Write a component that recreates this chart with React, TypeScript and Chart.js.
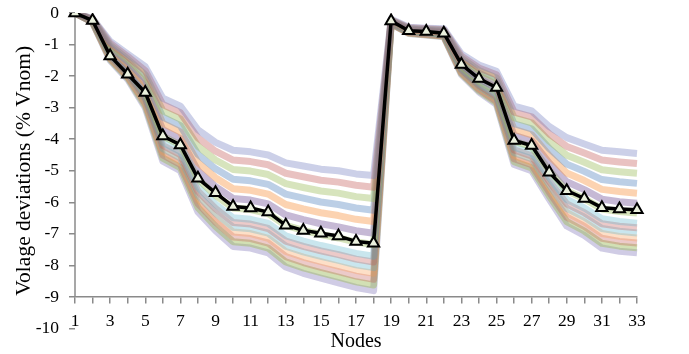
import React, { useEffect, useRef } from 'react';
import { Chart, registerables } from 'chart.js';

Chart.register(...registerables);

const NODES = ['1','2','3','4','5','6','7','8','9','10','11','12','13','14','15','16','17','18','19','20','21','22','23','24','25','26','27','28','29','30','31','32','33'];

const BASE = [0,-0.24,-1.36,-1.94,-2.52,-3.9,-4.18,-5.24,-5.7,-6.13,-6.18,-6.31,-6.73,-6.89,-6.98,-7.07,-7.24,-7.3,-0.25,-0.56,-0.59,-0.64,-1.63,-2.08,-2.36,-4.04,-4.2,-5.05,-5.63,-5.88,-6.17,-6.21,-6.24];

const CASE_01 = [0,-0.18,-0.9,-1.3,-1.7,-2.7,-2.95,-3.7,-4.1,-4.35,-4.4,-4.5,-4.75,-4.85,-4.95,-5.0,-5.1,-5.15,-0.2,-0.45,-0.48,-0.5,-1.3,-1.65,-1.85,-2.95,-3.1,-3.6,-3.95,-4.15,-4.35,-4.4,-4.45];
const CASE_02 = [0,-0.19,-0.96,-1.38,-1.83,-2.9,-3.16,-3.96,-4.38,-4.66,-4.71,-4.81,-5.08,-5.19,-5.3,-5.36,-5.46,-5.52,-0.22,-0.47,-0.5,-0.53,-1.37,-1.74,-1.96,-3.14,-3.29,-3.83,-4.23,-4.44,-4.66,-4.72,-4.77];
const CASE_03 = [0,-0.2,-1.02,-1.46,-1.96,-3.1,-3.36,-4.22,-4.66,-4.96,-5.01,-5.12,-5.41,-5.53,-5.64,-5.71,-5.82,-5.88,-0.23,-0.49,-0.52,-0.55,-1.43,-1.82,-2.06,-3.32,-3.48,-4.06,-4.51,-4.73,-4.97,-5.03,-5.08];
const CASE_04 = [0,-0.22,-1.08,-1.54,-2.09,-3.3,-3.57,-4.48,-4.94,-5.27,-5.32,-5.43,-5.74,-5.87,-5.99,-6.07,-6.18,-6.25,-0.25,-0.51,-0.55,-0.58,-1.5,-1.91,-2.17,-3.51,-3.67,-4.29,-4.79,-5.02,-5.28,-5.35,-5.4];
const CASE_05 = [0,-0.23,-1.14,-1.62,-2.22,-3.5,-3.77,-4.74,-5.22,-5.57,-5.62,-5.74,-6.07,-6.21,-6.33,-6.42,-6.54,-6.61,-0.26,-0.53,-0.57,-0.6,-1.56,-1.99,-2.27,-3.69,-3.86,-4.52,-5.07,-5.31,-5.59,-5.66,-5.71];
const CASE_06 = [0,-0.24,-1.2,-1.7,-2.35,-3.7,-3.98,-5.0,-5.5,-5.88,-5.93,-6.05,-6.4,-6.55,-6.68,-6.78,-6.9,-6.98,-0.28,-0.55,-0.59,-0.63,-1.63,-2.08,-2.38,-3.88,-4.05,-4.75,-5.35,-5.6,-5.9,-5.98,-6.03];
const CASE_07 = [0,-0.25,-1.26,-1.78,-2.48,-3.9,-4.18,-5.26,-5.78,-6.18,-6.23,-6.36,-6.73,-6.89,-7.02,-7.13,-7.26,-7.34,-0.29,-0.57,-0.61,-0.65,-1.69,-2.16,-2.48,-4.06,-4.24,-4.98,-5.63,-5.89,-6.21,-6.29,-6.34];
const CASE_08 = [0,-0.26,-1.32,-1.86,-2.61,-4.1,-4.39,-5.52,-6.06,-6.49,-6.54,-6.67,-7.06,-7.23,-7.37,-7.49,-7.62,-7.71,-0.31,-0.59,-0.63,-0.68,-1.76,-2.25,-2.59,-4.25,-4.43,-5.21,-5.91,-6.18,-6.52,-6.61,-6.66];
const CASE_09 = [0,-0.27,-1.35,-1.9,-2.68,-4.2,-4.49,-5.65,-6.2,-6.64,-6.69,-6.83,-7.23,-7.4,-7.54,-7.66,-7.8,-7.89,-0.31,-0.6,-0.65,-0.69,-1.79,-2.29,-2.64,-4.34,-4.53,-5.33,-6.05,-6.33,-6.68,-6.76,-6.81];
const CASE_10 = [0,-0.28,-1.38,-1.94,-2.74,-4.3,-4.59,-5.78,-6.34,-6.79,-6.84,-6.98,-7.39,-7.57,-7.71,-7.84,-7.98,-8.07,-0.32,-0.61,-0.66,-0.7,-1.82,-2.33,-2.69,-4.43,-4.62,-5.44,-6.19,-6.47,-6.83,-6.92,-6.97];
const CASE_11 = [0,-0.28,-1.41,-1.98,-2.81,-4.4,-4.69,-5.91,-6.48,-6.94,-6.99,-7.14,-7.56,-7.74,-7.88,-8.02,-8.16,-8.25,-0.33,-0.62,-0.67,-0.71,-1.85,-2.37,-2.74,-4.52,-4.72,-5.56,-6.33,-6.62,-6.99,-7.08,-7.13];
const CASE_12 = [0,-0.29,-1.44,-2.02,-2.87,-4.5,-4.8,-6.04,-6.62,-7.1,-7.15,-7.29,-7.72,-7.91,-8.06,-8.2,-8.34,-8.44,-0.34,-0.63,-0.68,-0.73,-1.89,-2.42,-2.8,-4.62,-4.81,-5.67,-6.47,-6.76,-7.14,-7.24,-7.29];
const CASE_13 = [0,-0.29,-1.47,-2.06,-2.94,-4.6,-4.9,-6.17,-6.76,-7.25,-7.3,-7.45,-7.89,-8.08,-8.23,-8.37,-8.52,-8.62,-0.34,-0.64,-0.69,-0.74,-1.92,-2.46,-2.85,-4.71,-4.91,-5.79,-6.61,-6.91,-7.3,-7.39,-7.44];
const CASE_14 = [0,-0.3,-1.5,-2.1,-3.0,-4.7,-5.0,-6.3,-6.9,-7.4,-7.45,-7.6,-8.05,-8.25,-8.4,-8.55,-8.7,-8.8,-0.35,-0.65,-0.7,-0.75,-1.95,-2.5,-2.9,-4.8,-5.0,-5.9,-6.75,-7.05,-7.45,-7.55,-7.6];

const CASES = [CASE_01, CASE_02, CASE_03, CASE_04, CASE_05, CASE_06, CASE_07, CASE_08, CASE_09, CASE_10, CASE_11, CASE_12, CASE_13, CASE_14];

const CASE_COLORS = [
  'rgba(110,120,190,0.35)',
  'rgba(192,80,77,0.35)',
  'rgba(155,187,89,0.4)',
  'rgba(79,129,189,0.38)',
  'rgba(247,150,70,0.42)',
  'rgba(128,100,162,0.45)',
  'rgba(155,187,89,0.4)',
  'rgba(75,172,198,0.3)',
  'rgba(192,80,77,0.3)',
  'rgba(75,172,198,0.3)',
  'rgba(247,150,70,0.3)',
  'rgba(192,80,77,0.3)',
  'rgba(155,187,89,0.45)',
  'rgba(120,110,180,0.35)',
];

const FONT = "'Liberation Serif', 'Times New Roman', serif";
const AXIS_COLOR = '#8a8a8a';

const yAxisLine = {
  id: 'yAxisLine',
  beforeDatasetsDraw(chart: any) {
    const { ctx, chartArea, scales } = chart;
    const y = scales.y;
    ctx.save();
    ctx.strokeStyle = AXIS_COLOR;
    ctx.lineWidth = 1.5;
    ctx.beginPath();
    ctx.moveTo(chartArea.left, y.getPixelForValue(0));
    ctx.lineTo(chartArea.left, y.getPixelForValue(-9));
    ctx.stroke();
    ctx.restore();
  },
};

export default function App() {
  const ref = useRef<HTMLCanvasElement | null>(null);

  useEffect(() => {
    if (!ref.current) return;
    const datasets: any[] = [
      {
        label: 'Base',
        data: BASE,
        borderColor: '#000000',
        borderWidth: 3.5,
        pointStyle: 'triangle',
        pointRadius: 6.5,
        pointBorderWidth: 2,
        pointBorderColor: '#000000',
        pointBackgroundColor: '#ebf1de',
        tension: 0,
        borderJoinStyle: 'round',
      },
      ...CASES.map((c, i) => ({
        label: 'Case ' + (i + 1),
        data: c,
        borderColor: CASE_COLORS[i],
        borderWidth: 7,
        pointRadius: 0,
        tension: 0,
        borderJoinStyle: 'round',
      })),
    ];

    const chart = new Chart(ref.current, {
      type: 'line',
      data: { labels: NODES, datasets },
      plugins: [yAxisLine],
      options: {
        responsive: false,
        animation: false,
        layout: { autoPadding: false, padding: { left: 0, right: 52, top: 13, bottom: 25.5 } },
        plugins: { legend: { display: false }, tooltip: { enabled: false } },
        scales: {
          x: {
            type: 'category',
            offset: false,
            position: { y: -9 } as any,
            border: { display: true, color: AXIS_COLOR, width: 1.5 },
            grid: { display: true, drawOnChartArea: false, drawTicks: true, tickLength: 6, color: AXIS_COLOR, lineWidth: 1.5 },
            ticks: {
              autoSkip: false,
              maxRotation: 0,
              padding: 7.5,
              color: '#000000',
              font: { family: FONT, size: 17.5 },
              callback: (_v: any, idx: number) => (idx % 2 === 0 ? NODES[idx] : ''),
            },
            title: {
              display: true,
              text: 'Nodes',
              color: '#000000',
              font: { family: FONT, size: 20, lineHeight: 1 },
              padding: { top: -7, bottom: 0 },
            },
          },
          y: {
            type: 'linear',
            min: -10,
            max: 0,
            position: 'left',
            border: { display: false },
            grid: { display: true, drawOnChartArea: false, drawTicks: true, tickLength: 6, color: AXIS_COLOR, lineWidth: 1.5 },
            ticks: {
              stepSize: 1,
              padding: 10,
              color: '#000000',
              font: { family: FONT, size: 17.5 },
            },
            title: {
              display: true,
              text: 'Volage deviations (% Vnom)',
              color: '#000000',
              font: { family: FONT, size: 21.5 },
              padding: { top: 11, bottom: 0 },
            },
            afterFit: (scale: any) => {
              scale.width = 75;
              scale.paddingTop = 0;
              scale.paddingBottom = 0;
            },
          },
        },
      },
    });
    return () => chart.destroy();
  }, []);

  return (
    <div style={{ position: 'absolute', left: 0, top: 0, width: 689, height: 354, background: '#ffffff' }}>
      <canvas ref={ref} width={689} height={354} />
    </div>
  );
}
